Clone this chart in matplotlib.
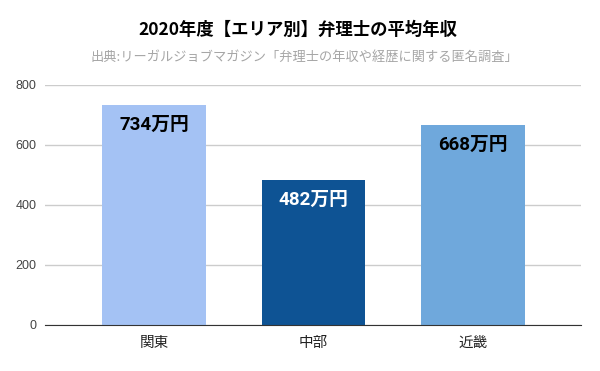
import matplotlib.pyplot as plt

# データ
areas = ['関東', '中部', '近畿']
salaries = [734, 482, 668]
labels = ['734万円', '482万円', '668万円']
colors = ['#a4c2f4', '#0e5394', '#6fa8dc']
label_colors = ['black', 'white', 'black']

plt.rcParams['font.family'] = ['Noto Sans CJK JP', 'DejaVu Sans']

fig = plt.figure(figsize=(6, 3.71), dpi=100)
ax = fig.add_axes([0.075, 0.124, 0.893, 0.647])

x = range(len(areas))
bars = ax.bar(x, salaries, width=0.65, color=colors, zorder=2)

for b, lab, c in zip(bars, labels, label_colors):
    ax.text(b.get_x() + b.get_width() / 2, b.get_height() - 66, lab,
            ha='center', va='center', fontsize=13.5, fontweight='bold', color=c,
            family=['Roboto', 'Noto Sans CJK JP'])

ax.set_xlim(-0.683, 2.677)
ax.set_ylim(0, 800)
ax.set_yticks([0, 200, 400, 600, 800])
ax.set_xticks(list(x))
ax.set_xticklabels(areas, fontsize=10.5, color='#222222')
ax.tick_params(axis='y', labelsize=9, colors='#444444', length=0, pad=6)
ax.tick_params(axis='x', length=0, pad=8)
for lab in ax.get_yticklabels():
    lab.set_family(['Liberation Sans', 'DejaVu Sans'])

ax.grid(axis='y', color='#cccccc', linewidth=1, zorder=0)
for s in ['top', 'right', 'left']:
    ax.spines[s].set_visible(False)
ax.spines['bottom'].set_color('#333333')
ax.spines['bottom'].set_zorder(3)

fig.text(0.497, 0.918, '2020年度【エリア別】弁理士の平均年収', ha='center', va='center',
         fontsize=12.5, fontweight='bold', color='black')
fig.text(0.507, 0.845, '出典:リーガルジョブマガジン「弁理士の年収や経歴に関する匿名調査」',
         ha='center', va='center', fontsize=9.5, color='#a6a6a6')

fig.savefig('out.png', dpi=100)
